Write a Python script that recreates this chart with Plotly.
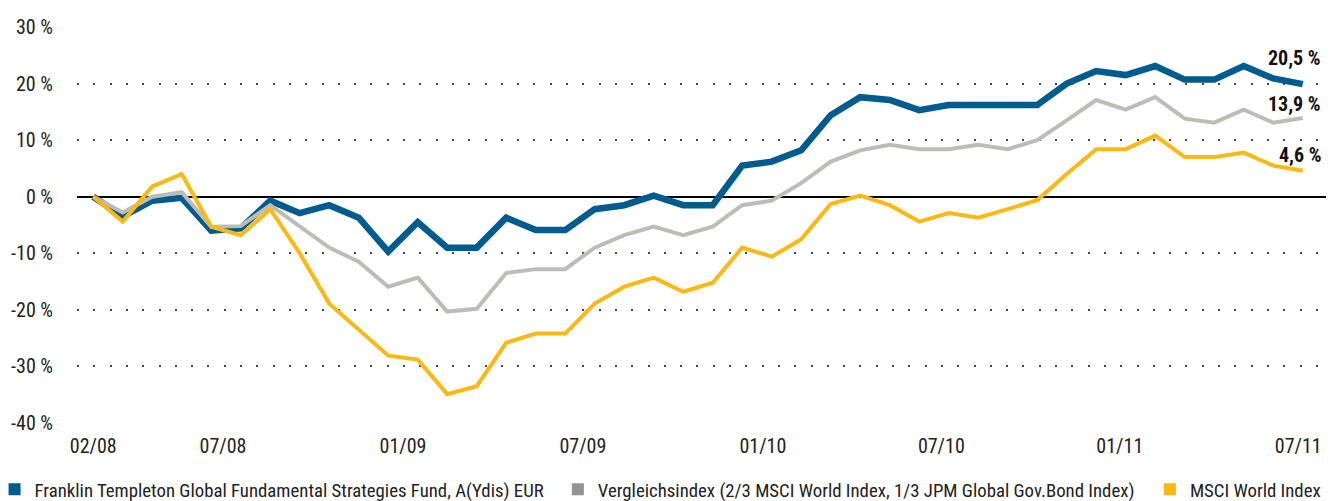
import plotly.graph_objects as go

# ---- data (cumulative performance in %) ----
months = list(range(42))  # monthly points from 02/2008 to 07/2011

fund = [0, -3.5, -0.7, -0.2, -6.0, -5.6, -0.7, -2.9, -1.5, -3.7,
        -9.7, -4.5, -9.0, -9.0, -3.7, -5.9, -5.9, -2.2, -1.5, 0.2,
        -1.5, -1.5, 5.5, 6.2, 8.2, 14.4, 17.6, 17.1, 15.3, 16.2,
        16.2, 16.2, 16.2, 20.0, 22.2, 21.5, 23.1, 20.7, 20.7, 23.1,
        20.9, 19.9]
benchmark = [0, -2.8, 0.0, 0.8, -5.3, -5.2, -1.5, -5.3, -9.0, -11.5,
             -15.9, -14.3, -20.3, -19.8, -13.5, -12.8, -12.8, -9.0, -6.8, -5.3,
             -6.8, -5.3, -1.5, -0.7, 2.4, 6.2, 8.2, 9.2, 8.4, 8.4,
             9.2, 8.4, 10.0, 13.5, 17.1, 15.4, 17.6, 13.8, 13.1, 15.4,
             13.1, 13.9]
msci = [0, -4.4, 1.8, 4.0, -5.3, -6.8, -2.2, -10.0, -18.9, -23.5,
        -28.1, -28.8, -34.9, -33.5, -25.8, -24.2, -24.2, -18.9, -15.9, -14.3,
        -16.8, -15.2, -9.0, -10.6, -7.5, -1.3, 0.2, -1.5, -4.4, -2.9,
        -3.7, -2.2, -0.6, 4.0, 8.4, 8.4, 10.8, 7.0, 7.0, 7.8,
        5.5, 4.6]

series_names = [
    "Franklin Templeton Global Fundamental Strategies Fund, A(Ydis) EUR",
    "Vergleichsindex (2/3 MSCI World Index, 1/3 JPM Global Gov.Bond Index)",
    "MSCI World Index",
]
end_labels = ["20,5 %", "13,9 %", "4,6 %"]

x_tick_vals = [0, 4.4, 10.5, 16.6, 22.7, 28.75, 34.8, 40.85]
x_tick_text = ["02/08", "07/08", "01/09", "07/09", "01/10", "07/10", "01/11", "07/11"]
y_tick_vals = [-40, -30, -20, -10, 0, 10, 20, 30]
y_tick_text = ["-40 %", "-30 %", "-20 %", "-10 %", "0 %", "10 %", "20 %", "30 %"]

# ---- styling ----
FONT = ("Roboto Condensed, Liberation Sans Narrow, Arial Narrow, "
        "DejaVu Sans Condensed, Open Sans Condensed, Roboto, sans-serif")
BLUE = "#005B8F"
GREY_LINE = "#BDBDB7"
GREY_LEG = "#939393"
YELLOW = "#FDB813"
TEXT = "#222222"

fig = go.Figure()

line_specs = [
    (fund, BLUE, 6.5),
    (benchmark, GREY_LINE, 4),
    (msci, YELLOW, 4),
]
for vals, col, w in line_specs:
    fig.add_trace(go.Scatter(x=months, y=vals, mode="lines",
                             line=dict(color=col, width=w),
                             showlegend=False, hoverinfo="skip"))

# legend entries (square symbols), each in its own legend box
leg_cols = [BLUE, GREY_LEG, YELLOW]
leg_names = ["legend", "legend2", "legend3"]
for name, col, lg in zip(series_names, leg_cols, leg_names):
    fig.add_trace(go.Scatter(x=[None], y=[None], mode="markers", name=name,
                             marker=dict(symbol="square", size=12, color=col),
                             showlegend=True, legend=lg))

# end value labels
label_shift = [26, 14, 16]
for vals, txt, ys in zip([fund, benchmark, msci], end_labels, label_shift):
    fig.add_annotation(x=months[-1], y=vals[-1], text=txt, showarrow=False,
                       xanchor="right", yanchor="middle", xshift=20, yshift=ys,
                       font=dict(family=FONT, size=20, color="#111111", weight="bold"))

legend_common = dict(orientation="h", yanchor="middle", y=-0.168,
                     xanchor="left", itemwidth=30, bgcolor="rgba(0,0,0,0)",
                     font=dict(family=FONT, size=18.8, color=TEXT),
                     itemclick=False, itemdoubleclick=False)

fig.update_layout(
    width=1334, height=501,
    margin=dict(l=77, r=8, t=27, b=78, autoexpand=False),
    paper_bgcolor="white", plot_bgcolor="white",
    font=dict(family=FONT, size=20, color=TEXT),
    legend=dict(x=-0.066, **legend_common),
    legend2=dict(x=0.385, **legend_common),
    legend3=dict(x=0.859, **legend_common),
    xaxis=dict(range=[-0.55, 41.79], tickvals=x_tick_vals, ticktext=x_tick_text,
               showgrid=False, zeroline=False, showline=False, ticks="",
               ticklabelstandoff=9,
               tickfont=dict(family=FONT, size=20, color=TEXT)),
    yaxis=dict(range=[-40, 30], tickvals=y_tick_vals, ticktext=y_tick_text,
               showgrid=True, gridcolor="#444444", gridwidth=2,
               griddash="2px,14.3px",
               zeroline=True, zerolinecolor="#000000", zerolinewidth=1.5,
               showline=False, ticks="", ticklabelstandoff=23,
               tickfont=dict(family=FONT, size=20, color=TEXT)),
)

fig.write_html("out.html", config={"displayModeBar": False},
               post_script="document.body.style.margin='0';document.body.style.overflow='hidden';")
